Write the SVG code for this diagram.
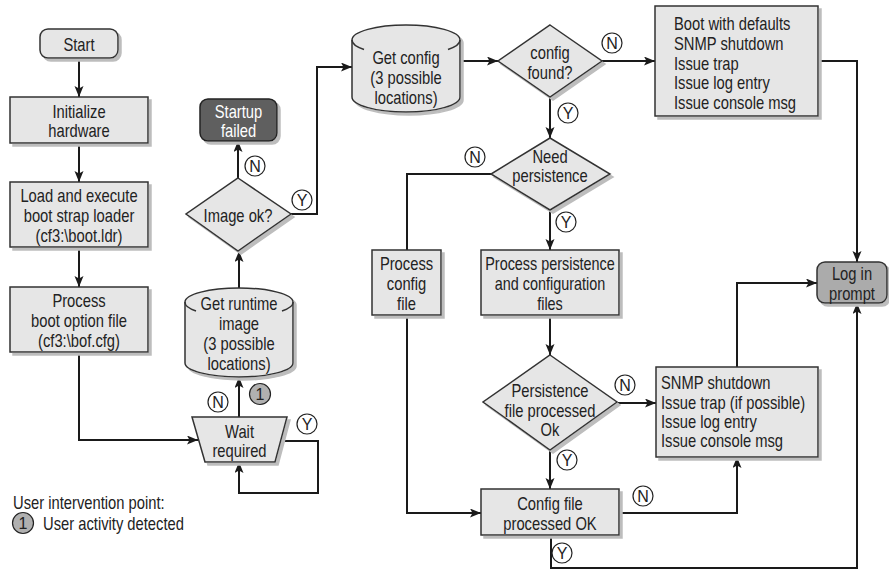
<svg xmlns="http://www.w3.org/2000/svg" width="889" height="571" viewBox="0 0 889 571">
  <defs>
    <filter id="drop" x="-10%" y="-10%" width="130%" height="130%">
      <feFlood flood-color="#bdbdbd" result="c"/>
      <feComposite in="c" in2="SourceAlpha" operator="in" result="s"/>
      <feOffset in="s" dx="3" dy="3" result="so"/>
      <feMerge><feMergeNode in="so"/><feMergeNode in="SourceGraphic"/></feMerge>
    </filter>
    <marker id="arrow" markerUnits="userSpaceOnUse" markerWidth="12" markerHeight="10" refX="11" refY="4.5" orient="auto">
      <path d="M0,0 L11,4.5 L0,9 L2.5,4.5 z" fill="#1a1a1a"/>
    </marker>
  </defs>
  <style>
    text { font-family: "Liberation Sans", Arial, sans-serif; font-size: 18px; fill: #222; dominant-baseline: central; }
    .c { text-anchor: middle; }
    .shape { fill: #e6e6e6; stroke: #333; stroke-width: 1.5; filter: url(#drop); }
    .dark { fill: #5f5f5f; stroke: #222; stroke-width: 1.5; filter: url(#drop); }
    .mid { fill: #ababab; stroke: #333; stroke-width: 1.5; filter: url(#drop); }
    .inv text { fill: #fff; }
    .edge { fill: none; stroke: #1a1a1a; stroke-width: 2; }
    .arr { marker-end: url(#arrow); }
    .tag circle { fill: #fff; stroke: #222; stroke-width: 1.2; }
    .tag text { font-size: 16px; text-anchor: middle; }
    .tag.user circle { fill: #b0b0b0; }
    .lid { fill: none; stroke: #333; stroke-width: 1.5; }
  </style>

  <!-- connectors -->
  <g id="connectors">
    <path class="edge arr" d="M79,58 V97"/>
    <path class="edge arr" d="M79,143 V182"/>
    <path class="edge arr" d="M79,247 V287"/>
    <path class="edge arr" d="M79,352 V440 H198"/>
    <path class="edge arr" d="M239,417 V377"/>
    <path class="edge arr" d="M281,441 H318 V493 H239 V462"/>
    <path class="edge arr" d="M239,288 V251"/>
    <path class="edge arr" d="M238,178 V141"/>
    <path class="edge arr" d="M291,214 H317 V67 H352"/>
    <path class="edge arr" d="M460,61 H498"/>
    <path class="edge arr" d="M602,61 H655"/>
    <path class="edge arr" d="M550,97 V138"/>
    <path class="edge" d="M491,174 H407 V250"/>
    <path class="edge arr" d="M550,210 V250"/>
    <path class="edge arr" d="M550,315 V355"/>
    <path class="edge arr" d="M617,403 H656"/>
    <path class="edge arr" d="M550,450 V489"/>
    <path class="edge arr" d="M407,315 V513 H481"/>
    <path class="edge arr" d="M619,513 H737 V457"/>
    <path class="edge arr" d="M551,535 V568 H857 V303"/>
    <path class="edge arr" d="M737,367 V283 H817"/>
    <path class="edge arr" d="M818,61 H857 V262"/>

    <!-- branch tags -->
    <g class="tag"><circle cx="218" cy="402" r="10"/><text x="218" y="402">N</text></g>
    <g class="tag user"><circle cx="260" cy="394" r="10.5"/><text x="260" y="394">1</text></g>
    <g class="tag"><circle cx="307" cy="424" r="10"/><text x="307" y="424">Y</text></g>
    <g class="tag"><circle cx="255" cy="166" r="10"/><text x="255" y="166">N</text></g>
    <g class="tag"><circle cx="302" cy="200" r="10"/><text x="302" y="200">Y</text></g>
    <g class="tag"><circle cx="612" cy="43" r="10"/><text x="612" y="43">N</text></g>
    <g class="tag"><circle cx="568" cy="113" r="10"/><text x="568" y="113">Y</text></g>
    <g class="tag"><circle cx="475" cy="157" r="10"/><text x="475" y="157">N</text></g>
    <g class="tag"><circle cx="566" cy="222" r="10"/><text x="566" y="222">Y</text></g>
    <g class="tag"><circle cx="625" cy="385" r="10"/><text x="625" y="385">N</text></g>
    <g class="tag"><circle cx="567" cy="460" r="10"/><text x="567" y="460">Y</text></g>
    <g class="tag"><circle cx="643" cy="496" r="10"/><text x="643" y="496">N</text></g>
    <g class="tag"><circle cx="562" cy="553" r="10"/><text x="562" y="553">Y</text></g>
  </g>

  <!-- labels are set in a condensed face: each block is squeezed horizontally about its anchor -->
  <g id="start">
    <rect class="shape" x="40" y="29" width="78" height="29" rx="8"/>
    <g transform="translate(79 0) scale(0.82 1)"><text class="c" y="44">Start</text></g>
  </g>
  <g id="init-hw">
    <rect class="shape" x="10" y="97" width="138" height="46"/>
    <g transform="translate(79 0) scale(0.82 1)">
      <text class="c" y="111">Initialize</text>
      <text class="c" y="130">hardware</text>
    </g>
  </g>
  <g id="boot-loader">
    <rect class="shape" x="10" y="182" width="138" height="65"/>
    <g transform="translate(79 0) scale(0.82 1)">
      <text class="c" y="195">Load and execute</text>
      <text class="c" y="215">boot strap loader</text>
      <text class="c" y="235">(cf3:\boot.ldr)</text>
    </g>
  </g>
  <g id="boot-options">
    <rect class="shape" x="10" y="287" width="138" height="65"/>
    <g transform="translate(79 0) scale(0.82 1)">
      <text class="c" y="300">Process</text>
      <text class="c" y="320">boot option file</text>
      <text class="c" y="340">(cf3:\bof.cfg)</text>
    </g>
  </g>
  <g id="startup-failed" class="inv">
    <rect class="dark" x="200" y="99" width="77" height="42" rx="8"/>
    <g transform="translate(238.5 0) scale(0.82 1)">
      <text class="c" y="111">Startup</text>
      <text class="c" y="130">failed</text>
    </g>
  </g>
  <g id="image-ok">
    <polygon class="shape" points="238,178 291,214 238,251 186,214"/>
    <g transform="translate(238 0) scale(0.82 1)"><text class="c" y="215">Image ok?</text></g>
  </g>
  <g id="runtime-image">
    <path class="shape" d="M185,302 A54,14 0 0 1 293,302 V363 A54,14 0 0 1 185,363 Z"/>
    <path class="lid" d="M185,302 A54,14 0 0 0 196,311 M293,302 A54,14 0 0 1 282,311"/>
    <g transform="translate(239 0) scale(0.82 1)">
      <text class="c" y="303">Get runtime</text>
      <text class="c" y="323">image</text>
      <text class="c" y="343">(3 possible</text>
      <text class="c" y="363">locations)</text>
    </g>
  </g>
  <g id="wait-required">
    <polygon class="shape" points="192,417 287,417 275,462 205,462"/>
    <g transform="translate(239.5 0) scale(0.82 1)">
      <text class="c" y="431">Wait</text>
      <text class="c" y="450">required</text>
    </g>
  </g>
  <g id="get-config">
    <path class="shape" d="M352,40 A54,15 0 0 1 460,40 V97 A54,15 0 0 1 352,97 Z"/>
    <path class="lid" d="M352,40 A54,15 0 0 0 364,49.5 M460,40 A54,15 0 0 1 448,49.5"/>
    <g transform="translate(406 0) scale(0.82 1)">
      <text class="c" y="57">Get config</text>
      <text class="c" y="77">(3 possible</text>
      <text class="c" y="97">locations)</text>
    </g>
  </g>
  <g id="config-found">
    <polygon class="shape" points="550,25 602,61 550,97 498,61"/>
    <g transform="translate(550 0) scale(0.82 1)">
      <text class="c" y="52">config</text>
      <text class="c" y="72">found?</text>
    </g>
  </g>
  <g id="boot-defaults">
    <rect class="shape" x="655" y="6" width="163" height="110"/>
    <g transform="translate(674 0) scale(0.82 1)">
      <text y="23">Boot with defaults</text>
      <text y="43">SNMP shutdown</text>
      <text y="63">Issue trap</text>
      <text y="82">Issue log entry</text>
      <text y="102">Issue console msg</text>
    </g>
  </g>
  <g id="need-persistence">
    <polygon class="shape" points="550,138 610,174 550,210 491,174"/>
    <g transform="translate(550 0) scale(0.82 1)">
      <text class="c" y="156">Need</text>
      <text class="c" y="175">persistence</text>
    </g>
  </g>
  <g id="process-config">
    <rect class="shape" x="372" y="250" width="69" height="65"/>
    <g transform="translate(406.5 0) scale(0.82 1)">
      <text class="c" y="263">Process</text>
      <text class="c" y="283">config</text>
      <text class="c" y="303">file</text>
    </g>
  </g>
  <g id="process-persistence">
    <rect class="shape" x="481" y="250" width="138" height="65"/>
    <g transform="translate(550 0) scale(0.8 1)">
      <text class="c" y="263">Process persistence</text>
      <text class="c" y="283">and configuration</text>
      <text class="c" y="303">files</text>
    </g>
  </g>
  <g id="persistence-ok">
    <polygon class="shape" points="550,355 617,402 550,450 483,402"/>
    <g transform="translate(550 0) scale(0.82 1)">
      <text class="c" y="390">Persistence</text>
      <text class="c" y="410">file processed</text>
      <text class="c" y="429">Ok</text>
    </g>
  </g>
  <g id="snmp-shutdown">
    <rect class="shape" x="656" y="367" width="162" height="90"/>
    <g transform="translate(661 0) scale(0.82 1)">
      <text y="382">SNMP shutdown</text>
      <text y="402">Issue trap (if possible)</text>
      <text y="421">Issue log entry</text>
      <text y="440">Issue console msg</text>
    </g>
  </g>
  <g id="config-ok">
    <rect class="shape" x="481" y="489" width="138" height="46"/>
    <g transform="translate(550 0) scale(0.82 1)">
      <text class="c" y="503">Config file</text>
      <text class="c" y="523">processed OK</text>
    </g>
  </g>
  <g id="login-prompt">
    <rect class="mid" x="817" y="262" width="70" height="41" rx="8"/>
    <g transform="translate(852 0) scale(0.82 1)">
      <text class="c" y="273">Log in</text>
      <text class="c" y="293">prompt</text>
    </g>
  </g>

  <g id="legend">
    <g transform="translate(13 0) scale(0.82 1)"><text y="502">User intervention point:</text></g>
    <g class="tag user"><circle cx="23" cy="523" r="10.5"/><text x="23" y="523">1</text></g>
    <g transform="translate(43 0) scale(0.82 1)"><text y="523">User activity detected</text></g>
  </g>
</svg>
